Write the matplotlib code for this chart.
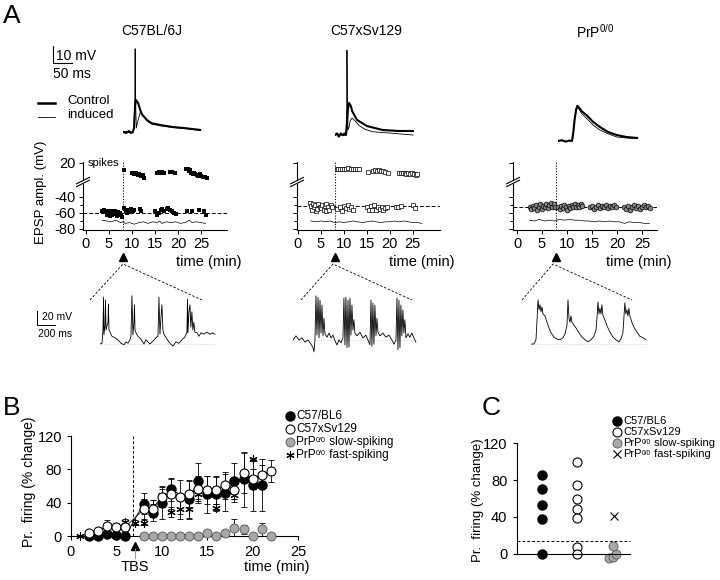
import numpy as np
import matplotlib
matplotlib.use('Agg')
import matplotlib.pyplot as plt

plt.rcParams['font.family'] = ['Liberation Sans', 'DejaVu Sans']
plt.rcParams['mathtext.fontset'] = 'custom'
plt.rcParams['mathtext.rm'] = 'Liberation Sans'
plt.rcParams['mathtext.it'] = 'Liberation Sans:italic'
plt.rcParams['axes.facecolor'] = 'none'
plt.rcParams['axes.unicode_minus'] = False

# ---------------- data ----------------
# A, top: single EPSP traces (ms, mV above baseline)
TT1_MS = [0, 8, 16, 21, 26, 29, 32, 34, 40, 45, 50, 63, 75, 97, 131, 160, 203]
TT1_CTRL = [0, -0.6, 0.6, -0.6, 0, 2.5, 17, 20, 18, 14, 11, 7.5, 5.5, 4.4, 3.1, 2.5, 1.3]
TT1_IND_MS = [0, 8, 16, 26, 29, 31, 32, 33, 35, 38, 45, 50, 63, 75, 97, 131, 160, 203]
TT1_IND = [0, 0.5, -0.5, 0, 3, 20, 52, 20, 2.5, 6, 12, 11.5, 7, 5, 4, 2.8, 2.2, 1.0]

TT2_MS = [0, 5, 10, 15, 20, 25, 29, 31, 34, 37, 42, 45, 58, 84, 126, 168, 205]
TT2_CTRL = [0, 1, -1, 1, 0, 1, 0, 5, 16, 20, 18, 15, 9.4, 5.6, 3.1, 2.5, 2.5]
TT2_IND_MS = [0, 10, 20, 29, 31, 31.5, 32.5, 34, 37, 40, 45, 52, 63, 79, 100, 145, 205]
TT2_IND = [0, 0.5, -0.5, 0, 20, 53, 20, 3, 5, 9, 10.6, 9, 6, 3.5, 2, 1.2, 0]

TT3_MS = [0, 10, 20, 30, 37, 40, 44, 48, 51, 55, 63, 76, 92, 110, 132, 155, 180, 208]
TT3_CTRL = [0, 0.5, -0.4, 0.3, 0, 5, 14, 20, 22, 21, 18.5, 16, 12, 8.8, 5.6, 3.7, 2.5, 1.9]
TT3_IND = [0, 0.3, -0.3, 0.3, 0, 4, 13, 19, 21, 20, 17, 14, 10, 6.9, 4.5, 2.5, 1.9, 1.5]

# A, middle: EPSP amplitude / spikes over time (min, mV)
P1_LOW_T = [3.5, 3.8, 4.0, 4.2, 4.5, 4.6, 4.8, 5.0, 5.2, 5.3, 5.5, 5.7, 6.0, 6.2, 6.4, 6.6, 6.8, 7.0, 7.2, 7.4, 7.6, 7.8,
            8.3, 8.6, 8.9, 9.2, 9.5, 9.8, 10.2, 10.5, 11.8, 12.0,
            15.0, 15.4, 15.8, 16.2, 16.6, 17.0, 17.5, 17.9, 18.3, 18.7, 19.1, 19.5,
            22.0, 23.0, 24.6, 25.6, 26.0]
P1_LOW_V = [-57, -58, -56, -59, -57, -62, -58, -60, -57, -64, -59, -62, -58, -60, -57, -61, -64, -59, -62, -60, -63, -65,
            -54, -57, -60, -56, -59, -55, -58, -56, -55, -58,
            -58, -62, -60, -56, -55, -58, -55, -54, -56, -58, -60, -61,
            -58, -57, -56, -58, -62]
P1_SPK_T = [8.2, 10.0, 10.4, 10.8, 11.2, 11.6, 12.0, 12.3, 12.6,
            15.4, 15.8, 16.2, 16.6, 17.0, 18.2, 18.8, 19.4,
            21.7, 22.1, 22.4, 22.6, 22.9, 23.2, 23.5, 23.8, 24.1, 24.4, 24.7, 25.0, 25.4, 25.8, 26.2]
P1_SPK_V = [11, 7, 6, 7, 5, 6, 4, 5, 1,
            8, 9, 8, 9, 8, 9, 9, 8,
            12, 13, 10, 11, 8, 6, 8, 6, 5, 4, 6, 4, 3, 3, 1]
P1_BASE_T = [3.5, 4.5, 5.5, 6.5, 7.5, 8.0, 8.5, 9.5, 10.5, 11.5, 12.5, 13.5, 14.5, 15.5, 16.0, 16.5, 17.5,
             18.5, 19.5, 20.5, 21.5, 22.5, 23.0, 24.0, 25.0, 26.0]
P1_BASE_V = [-69, -70, -71, -69, -72, -71, -73, -72, -74, -72, -71, -73, -71, -72, -70, -73, -71,
             -72, -71, -73, -72, -69, -72, -71, -72, -73]

P2_LOW_T = [2.6, 2.9, 3.0, 3.2, 3.5, 3.8, 4.0, 4.1, 4.4, 4.7, 5.0, 5.3, 5.6, 5.9, 6.0, 6.2, 6.5, 6.8, 7.1, 7.4,
            8.6, 9.2, 9.5, 10.0, 10.4, 10.8, 11.2, 11.6, 12.0,
            15.0, 15.4, 15.8, 16.2, 16.6, 17.0, 17.4, 17.8, 18.2, 18.6, 19.0, 19.4,
            21.3, 21.8, 22.4, 25.0, 25.5]
P2_LOW_V = [-48, -51, -56, -49, -53, -50, -57, -55, -49, -52, -54, -50, -56, -51, -57, -49, -53, -56, -50, -52,
            -55, -53, -58, -51, -54, -50, -55, -53, -56,
            -52, -56, -51, -56, -50, -56, -53, -55, -52, -56, -54, -53,
            -53, -52, -51, -50, -54]
P2_SPK_T = [8.4, 8.8, 9.2, 9.6, 10.0, 10.4, 10.8, 11.6, 12.0, 12.4, 12.8, 13.2,
            15.3, 16.4, 16.8, 17.2, 17.6, 18.0, 18.5, 19.0, 19.6,
            22.0, 22.4, 22.8, 23.2, 23.6, 24.0, 24.4, 24.8, 25.2, 25.6, 26.0]
P2_SPK_V = [13, 12, 13, 12, 12, 13, 14, 12, 13, 12, 13, 12,
            9, 10, 11, 10, 11, 10, 10, 9, 8,
            8, 7, 8, 7, 6, 7, 6, 7, 6, 5, 6]
P2_BASE_T = [2.8, 4.0, 5.0, 6.0, 7.0, 8.0, 9.0, 10.0, 11.0, 12.0, 13.0, 14.0, 15.0, 16.0, 17.0, 18.0, 19.0,
             20.0, 21.0, 22.0, 23.0, 24.0, 25.0, 26.0, 27.0]
P2_BASE_V = [-70, -71, -70, -71, -70, -72, -71, -72, -71, -70, -71, -72, -71, -70, -71, -72, -71,
             -71, -70, -71, -70, -71, -72, -72, -73]

P3_T = [2.5, 2.8, 3.1, 3.4, 3.7, 4.0, 4.3, 4.6, 4.9, 5.2, 5.5, 5.8, 6.1, 6.4, 6.7, 7.0, 7.3, 7.6,
        8.2, 8.5, 8.8, 9.1, 9.4, 9.7, 10.0, 10.3, 10.6, 10.9, 11.2, 11.5, 11.8, 12.1, 12.4, 12.7, 13.0,
        14.6, 15.0, 15.4, 15.8, 16.2, 16.6, 17.0, 17.4, 17.8, 18.2, 18.6, 19.0, 19.4, 19.8,
        21.3, 21.7, 22.1, 22.5, 22.9, 23.3, 23.7, 24.1, 24.5, 24.9, 25.3, 25.7, 26.1, 26.5]
P3_V = [-52, -55, -51, -54, -50, -56, -52, -49, -55, -51, -53, -49, -54, -50, -48, -52, -49, -53,
        -52, -55, -51, -54, -50, -53, -56, -51, -54, -50, -53, -49, -52, -50, -53, -49, -51,
        -53, -51, -55, -52, -50, -54, -51, -53, -50, -54, -51, -52, -50, -53,
        -52, -55, -51, -56, -53, -50, -54, -51, -55, -52, -50, -53, -51, -54]
P3_BASE_T = [2.5, 3.5, 4.5, 5.5, 6.5, 7.5, 8.5, 9.5, 10.5, 11.5, 12.5, 13.5, 14.5, 15.5, 16.5, 17.5, 18.5,
             19.5, 20.5, 21.5, 22.5, 23.5, 24.5, 25.5, 26.5]
P3_BASE_V = [-69, -70, -68, -70, -69, -70, -68, -69, -68, -69, -69, -70, -70, -71, -70, -71, -70,
             -71, -71, -73, -71, -72, -72, -73, -73]

EPSP_THRESH = [-60, -51, -52.5]
TBS_MIN = [8.0, 8.0, 7.8]
SPIKE_OFFSET = -17.5   # axis break: spike values drawn shifted down

# A, bottom: burst traces (ms, mV)
BT1_MS = [0, 22, 33, 39, 44, 55, 61, 67, 78, 89, 94, 100, 111, 133, 166, 200, 233, 266, 289, 311,
          333, 344, 355, 366, 377, 383, 389, 400, 422, 455, 488, 511, 533, 555, 588, 622, 644, 655, 666, 677,
          688, 699, 710, 744, 777, 810, 844, 877, 910, 944, 966, 972, 977, 988, 999, 1010, 1021, 1032, 1043, 1054,
          1077, 1099, 1121, 1154, 1188, 1221, 1254, 1277]
BT1_MV = [0, 1, 20, 67, 13, 27, 63, 20, 26, 31, 57, 20, 17, 11, 9, 6, 1, -1, 3, 1,
          6, 11, 69, 13, 31, 56, 20, 16, 11, 7, 0, 6, 3, 0, 4, 9, 11, 67, 14, 37,
          56, 20, 14, 7, 1, -3, 3, 1, 6, 10, 17, 64, 16, 46, 56, 24, 46, 20, 31, 17,
          16, 11, 16, 14, 17, 14, 16, 14]
BT2_MS = [0, 33, 67, 100, 133, 166, 200, 222, 233, 244, 255, 266, 278, 289, 300, 311, 322, 333, 344, 355,
          378, 400, 422, 444, 466, 488, 511, 533, 555, 566, 577, 588, 600, 611, 622, 633, 644, 655, 666, 677,
          688, 711, 744, 777, 810, 833, 855, 866, 877, 888, 899, 910, 922, 933, 944, 966, 999, 1032, 1066, 1099,
          1122, 1144, 1155, 1166, 1177, 1188, 1199, 1210, 1221, 1232, 1243, 1255, 1277, 1299, 1321, 1343, 1366]
BT2_MV = [0, 6, 0, 3, -3, 0, -6, -11, -17, 0, 63, 7, 61, 3, 57, 10, 50, 6, 31, 9,
          4, 10, 3, 7, -1, -7, 0, -4, 3, 60, -7, 61, -11, 57, -10, 60, 7, 50, 14, 29,
          10, 6, 11, 3, 7, 0, -7, 57, -9, 53, -6, 50, 6, 31, 11, 6, 10, 4, 7, 0,
          -6, 0, 60, -14, 57, -11, 50, 6, 43, 10, 29, 3, 9, 4, 10, 3, -3]
BT3_MS = [0, 33, 55, 67, 78, 89, 100, 111, 122, 133, 155, 178, 200, 222, 255, 289, 322, 355, 377, 400,
          411, 422, 433, 444, 455, 477, 500, 533, 566, 600, 633, 666, 699, 722, 733, 744, 755, 766, 777, 788,
          799, 822, 844, 877, 910, 944, 977, 999, 1021, 1032, 1043, 1054, 1066, 1077, 1088, 1099, 1121, 1143, 1177, 1210,
          1243, 1277]
BT3_MV = [0, 0, 6, 34, 63, 49, 56, 46, 53, 43, 40, 31, 23, 16, 10, 7, 6, 9, 14, 27,
          63, 37, 31, 40, 31, 27, 23, 16, 10, 6, 3, 6, 11, 20, 37, 60, 43, 51, 43, 56,
          41, 34, 26, 17, 10, 6, 3, 7, 16, 37, 59, 43, 49, 40, 51, 40, 31, 24, 17, 11,
          9, 6]

# B: firing probability over time (% change)
BL6_T = [2, 3, 4, 5, 6, 8, 9, 10, 11, 13, 14, 15, 16, 17, 18, 19, 20, 21]
BL6_V = [0, 0, 2, 1, 0, 39, 28, 40, 56, 44, 66, 50, 51, 52, 66, 68, 61, 61]
BL6_E = [0, 0, 2, 2, 0, 13, 10, 20, 14, 22, 22, 22, 20, 22, 22, 33, 31, 31]
SV_T = [2, 3, 4, 5, 6, 8, 9, 10, 11, 12, 13, 14, 15, 16, 17, 18, 19, 20, 21, 22]
SV_V = [4, 6, 12, 11, 11, 32, 33, 47, 51, 47, 51, 57, 55, 55, 61, 55, 76, 69, 73, 78]
SV_E = [2, 3, 7, 5, 5, 12, 10, 12, 18, 20, 16, 15, 17, 17, 16, 10, 24, 12, 12, 13]
FAST_T = [1, 6, 7, 8, 9, 10, 11, 12, 13, 14, 16, 18, 20]
FAST_V = [0, 17, 16, 16, 33, 49, 29, 33, 33, 50, 34, 49, 92]
FAST_E = [0, 3, 3, 3, 10, 8, 6, 12, 12, 10, 4, 8, 2]
SLOW_T = [8, 9, 10, 11, 12, 13, 14, 15, 16, 17, 18, 19, 20, 21, 22]
SLOW_V = [0, 0, 0, 0, 0, 0, 0, 4, 0, 4, 10, 8, 0, 8, 0]
SLOW_E = [0, 0, 0, 0, 0, 0, 0, 3, 0, 3, 10, 5, 0, 8, 0]
TBS_B = 6.8

# C: per-cell change (% change)
C_BL6_X = [1, 1, 1, 1, 1]
C_BL6_V = [85, 70, 53, 38, 0]
C_SV_X = [2, 2, 2, 2, 2, 2, 2]
C_SV_V = [100, 75, 59, 49, 39, 8, 0]
C_SLOW_X = [2.9, 3.0, 3.1, 3.0]
C_SLOW_V = [-4, -3, 0, 9]
C_FAST_X = [3.05]
C_FAST_V = [41]
C_THRESH = 14

# legend labels: name, superscript, rest
LEG_NAMES = ['C57/BL6', 'C57xSv129', 'PrP', 'PrP']
LEG_SUPS = ['', '', '0/0', '0/0']
LEG_RESTS = ['', '', ' slow-spiking', ' fast-spiking']
GRAY = '#a8a8a8'

# ---------------- figure ----------------
W, H = 720, 580
fig = plt.figure(figsize=(W / 100, H / 100), dpi=100)


def px_axes(left, top, width, height):
    return fig.add_axes([left / W, 1 - (top + height) / H, width / W, height / H])


ov = px_axes(0, 0, W, H)
ov.set_xlim(0, W)
ov.set_ylim(H, 0)
ov.axis('off')

# panel letters
ov.text(3, 16, 'A', fontsize=19, va='center')
ov.text(3, 408, 'B', fontsize=19, va='center')
ov.text(482, 408, 'C', fontsize=19, va='center')

# strain titles
ov.text(152, 31, 'C57BL/6J', fontsize=10, ha='center', va='center')
ov.text(366, 31, 'C57xSv129', fontsize=10, ha='center', va='center')
ov.text(595, 32, r'PrP$^{\mathrm{0/0}}$', fontsize=10, ha='center', va='center')

# scale bars and legend for top traces
ov.plot([53, 53, 72], [46, 63, 63], color='k', lw=0.8)
ov.text(56, 56, '10 mV', fontsize=10, va='center')
ov.text(53, 74, '50 ms', fontsize=10, va='center')
ov.plot([38, 55], [103, 103], color='k', lw=1.8)
ov.plot([38, 55], [117, 117], color='k', lw=0.6)
ov.text(67, 101, 'Control', fontsize=9.5, va='center')
ov.text(67, 115, 'induced', fontsize=9.5, va='center')

ov.plot([37, 37, 55], [311, 325, 325], color='k', lw=0.7)
ov.text(42, 317, '20 mV', fontsize=7.5, va='center')
ov.text(38, 334, '200 ms', fontsize=7.5, va='center')

ov.text(41, 192, 'EPSP ampl. (mV)', fontsize=9.5, rotation=90, ha='center', va='center')

# dashed zoom lines from TBS arrows to burst traces
for ax_x, l_x, r_x in [(123, 90, 202), (333, 301, 412), (553, 522, 632)]:
    ov.plot([l_x, ax_x, r_x], [300, 264, 300], color='k', lw=0.6, ls=(0, (3, 2)))


def trace_axes(x0, base, top, bottom, width, ms_px, mv_px):
    ax = px_axes(x0, top, width, bottom - top)
    ax.set_xlim(0, width * ms_px)
    ax.set_ylim(-(bottom - base) * mv_px, (base - top) * mv_px)
    ax.axis('off')
    return ax


# top EPSP traces
for x0, base, ms, ctrl, ms_i, ind in [(123, 132, TT1_MS, TT1_CTRL, TT1_IND_MS, TT1_IND),
                                      (335, 135, TT2_MS, TT2_CTRL, TT2_IND_MS, TT2_IND),
                                      (558, 141, TT3_MS, TT3_CTRL, TT3_MS, TT3_IND)]:
    ax = trace_axes(x0, base, 40, 150, 100, 50 / 19, 10 / 16)
    ax.plot(ms_i, ind, color='k', lw=0.6)
    ax.plot(ms, ctrl, color='k', lw=1.5)

# bottom burst traces
for x0, base, ms, mv in [(100, 344, BT1_MS, BT1_MV), (293, 340, BT2_MS, BT2_MV), (531, 344, BT3_MS, BT3_MV)]:
    ax = trace_axes(x0, base, 290, 360, 130, 200 / 18, 20 / 14)
    ax.plot([0, ms[-1]], [0, 0], color='#bbbbbb', lw=0.5, ls=':')
    ax.plot(ms, mv, color='k', lw=0.6)


# middle EPSP amplitude panels
def epsp_panel(left, width, xlim, idx, labels):
    ax = px_axes(left, 162, width, 68)
    ax.set_xlim(*xlim)
    ax.set_ylim(-81.25, 3.75)
    for s in ['top', 'right', 'left']:
        ax.spines[s].set_visible(False)
    ax.spines['bottom'].set_linewidth(0.8)
    yt = ax.get_yaxis_transform()
    ax.plot([0, 0], [-81.25, -23.5], color='k', lw=0.8, transform=yt, clip_on=False)
    ax.plot([0, 0], [-19.0, 3.75], color='k', lw=0.8, transform=yt, clip_on=False)
    for c in [-23.0, -19.5]:
        ax.plot([-0.045, 0.045], [c - 4, c + 4], color='k', lw=0.8, transform=yt, clip_on=False)
    ax.set_yticks([-80, -60, -40, 20 + SPIKE_OFFSET])
    ax.set_yticks([-70, -50], minor=True)
    ax.set_yticklabels(['-80', '-60', '-40', '20'] if labels else [])
    ax.set_xticks([0, 5, 10, 15, 20, 25])
    ax.tick_params(labelsize=10.5, length=3, width=0.7, pad=2)
    ax.tick_params(which='minor', length=2, width=0.7)
    ax.axhline(EPSP_THRESH[idx], color='k', lw=0.7, ls=(0, (4, 2)))
    ax.axvline(TBS_MIN[idx], color='k', lw=0.8, ls=(0, (1, 1.5)))
    ax.plot([TBS_MIN[idx]], [-0.40], marker='^', color='k', ms=6,
            transform=ax.get_xaxis_transform(), clip_on=False)
    ax.text(1.1, -0.47, 'time (min)', fontsize=10.5, ha='right', va='center', transform=ax.transAxes)
    return ax


a1 = epsp_panel(83, 144, (-0.65, 30.65), 0, True)
a1.plot(P1_BASE_T, P1_BASE_V, color='k', lw=0.5)
a1.plot(P1_LOW_T, P1_LOW_V, 's', color='k', ms=2.4, mew=0)
a1.plot(P1_SPK_T, np.array(P1_SPK_V) + SPIKE_OFFSET, 's', color='k', ms=2.4, mew=0)
a1.text(0.03, 20 + SPIKE_OFFSET, 'spikes', fontsize=8, va='center', transform=a1.get_yaxis_transform())

a2 = epsp_panel(297, 143, (-0.2, 30.9), 1, False)
a2.plot(P2_BASE_T, P2_BASE_V, color='k', lw=0.5)
a2.plot(P2_LOW_T, P2_LOW_V, 's', mfc='white', mec='k', ms=2.3, mew=0.5)
a2.plot(P2_SPK_T, np.array(P2_SPK_V) + SPIKE_OFFSET, 's', mfc='white', mec='k', ms=2.3, mew=0.5)

a3 = epsp_panel(513, 144, (-0.8, 28.0), 2, False)
a3.plot(P3_BASE_T, P3_BASE_V, color='k', lw=0.5)
a3.plot(P3_T, P3_V, 'o', mfc='#888888', mec='k', ms=3.4, mew=0.5)

# ---------------- panel B ----------------
axb = px_axes(65, 430, 240, 115)
axb.set_xlim(-0.66, 25.77)
axb.set_ylim(-10.8, 127.2)
axb.spines['top'].set_visible(False)
axb.spines['right'].set_visible(False)
axb.spines['left'].set_position(('data', 0))
axb.spines['left'].set_bounds(0, 120)
axb.spines['bottom'].set_position(('data', 0))
axb.spines['bottom'].set_bounds(0, 25)
for s in ['left', 'bottom']:
    axb.spines[s].set_linewidth(0.8)
axb.set_xticks([0, 5, 10, 15, 20, 25])
axb.set_yticks([0, 40, 80, 120])
axb.tick_params(labelsize=10.5, length=3, width=0.8)

axb.plot([TBS_B, TBS_B], [0, 120], color='k', lw=0.7, ls=(0, (3, 2)))
eb = dict(fmt='none', ecolor='k', elinewidth=0.6, capsize=2, capthick=0.6)
axb.errorbar(SLOW_T, SLOW_V, yerr=SLOW_E, **eb)
axb.errorbar(FAST_T, FAST_V, yerr=FAST_E, **eb)
axb.errorbar(BL6_T, BL6_V, yerr=BL6_E, **eb)
axb.errorbar(SV_T, SV_V, yerr=SV_E, **eb)
axb.plot(SLOW_T, SLOW_V, 'o', mfc=GRAY, mec='#555555', ms=6.5, mew=0.6, clip_on=False, zorder=3)
axb.plot(FAST_T, FAST_V, ls='none', marker=(6, 2, 0), color='k', ms=6, mew=0.8, zorder=3)
axb.plot(BL6_T, BL6_V, '-o', color='k', lw=0.6, mfc='k', mec='k', ms=6.5, clip_on=False, zorder=4)
axb.plot(SV_T, SV_V, '-o', color='k', lw=0.6, mfc='white', mec='k', ms=6.5, mew=0.8, clip_on=False, zorder=4)

axb.plot([7.0], [-12], marker='^', color='k', ms=6, clip_on=False)
axb.plot([7.0, 7.0], [-15, -26], color='#999999', lw=0.8, clip_on=False)
axb.text(7.0, -37, 'TBS', fontsize=10.5, ha='center', va='center')
axb.text(22.7, -37, 'time (min)', fontsize=10.5, ha='center', va='center')
ov.text(29, 482, 'Pr.  firing (% change)', fontsize=10, rotation=90, ha='center', va='center')

# ---------------- panel C ----------------
axc = px_axes(505, 437, 140, 129)
axc.set_xlim(-0.03, 3.915)
axc.set_ylim(-13, 126.5)
axc.spines['top'].set_visible(False)
axc.spines['right'].set_visible(False)
axc.spines['left'].set_position(('data', 0.31))
axc.spines['left'].set_bounds(0, 120)
axc.spines['bottom'].set_position(('data', 0))
axc.spines['bottom'].set_bounds(0.31, 3.49)
for s in ['left', 'bottom']:
    axc.spines[s].set_linewidth(0.8)
axc.set_xticks([])
axc.set_yticks([0, 40, 80, 120])
axc.tick_params(labelsize=10.5, length=3, width=0.8, pad=4)
axc.hlines(C_THRESH, 0.31, 3.49, color='k', lw=0.7, ls=(0, (3, 2)))
axc.plot(C_BL6_X, C_BL6_V, 'o', mfc='k', mec='k', ms=6.5, clip_on=False)
axc.plot(C_SV_X, C_SV_V, 'o', mfc='white', mec='k', ms=6.5, mew=0.8, clip_on=False)
axc.plot(C_SLOW_X, C_SLOW_V, 'o', mfc=GRAY, mec='#555555', ms=6.5, mew=0.6, clip_on=False)
axc.plot(C_FAST_X, C_FAST_V, 'x', color='k', ms=6, mew=0.8)
ov.text(478, 500, 'Pr.  firing (% change)', fontsize=9.5, rotation=90, ha='center', va='center')

# legends (drawn by hand for fixed row spacing)
LEG_STYLES = [dict(marker='o', mfc='k', mec='k', ms=6.5),
              dict(marker='o', mfc='white', mec='k', ms=6.5, mew=0.8),
              dict(marker='o', mfc=GRAY, mec='#555555', ms=6.5, mew=0.6),
              dict(marker=(6, 2, 0), color='k', ms=6, mew=0.8)]


def draw_legend(mx, tx, rows, styles, size):
    for y, st, name, sup, rest in zip(rows, styles, LEG_NAMES, LEG_SUPS, LEG_RESTS):
        ov.plot([mx], [y], ls='none', **st)
        t1 = ov.text(tx, y, name, fontsize=size, va='center')
        if sup:
            t2 = ov.annotate(sup, xy=(1, 0.92), xycoords=t1, fontsize=size * 0.6,
                             ha='left', va='top')
            ov.annotate(rest, xy=(1, 0.5), xycoords=(t2, t1), fontsize=size,
                        ha='left', va='center')


draw_legend(290, 296, [416, 429, 442, 455], LEG_STYLES, 8.5)
draw_legend(617, 623, [421, 432, 443, 454],
            LEG_STYLES[:3] + [dict(marker='x', color='k', ms=6, mew=0.8)], 8)

fig.savefig('out.png', dpi=100)
